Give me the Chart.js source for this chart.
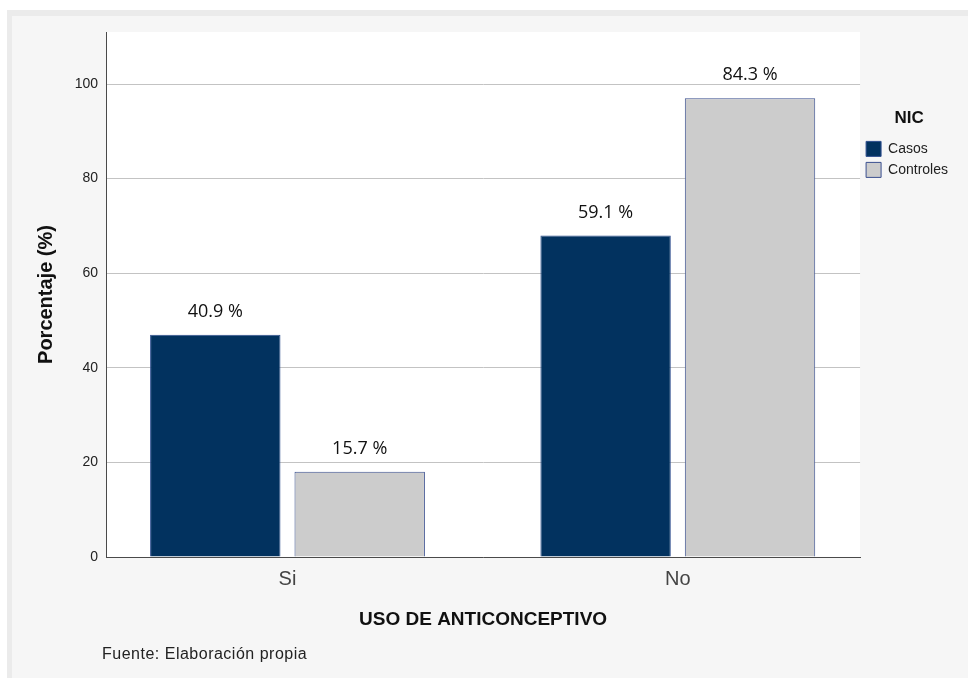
<!DOCTYPE html>
<html>
<head>
<meta charset="utf-8">
<script src="https://cdn.jsdelivr.net/npm/chart.js@4"></script>
<style>
  body { margin: 0; background: #fff; }
  #wrap { width: 968px; height: 678px; }
</style>
</head>
<body>
<div id="wrap"><canvas id="nicChart" width="968" height="678"></canvas></div>
<script>
// categories and values
const categories = ['Si', 'No'];
const casos = [47, 68];        // bar heights on the axis
const controles = [18, 97];
const casosLabels = ['40.9 %', '59.1 %'];
const controlesLabels = ['15.7 %', '84.3 %'];
const yTicks = [0, 20, 40, 60, 80, 100];

const toPoints = arr => arr.map((v, i) => ({ x: i, y: v }));

// grey frame + white plot area
const frame = {
  id: 'frame',
  beforeDraw(chart) {
    const { ctx, width, height, chartArea: a } = chart;
    ctx.save();
    ctx.fillStyle = '#ffffff';
    ctx.fillRect(0, 0, width, height);
    ctx.fillStyle = '#ebebeb';
    ctx.fillRect(7, 10, width - 7, height - 10);
    ctx.fillStyle = '#f6f6f6';
    ctx.fillRect(12, 16, width - 12, height - 16);
    ctx.fillStyle = '#ffffff';
    ctx.fillRect(a.left, a.top, a.right - a.left, a.bottom - a.top);
    ctx.restore();
  }
};

// percentage text above each bar + footnote
const valueText = {
  id: 'valueText',
  afterDatasetsDraw(chart) {
    const { ctx } = chart;
    const texts = [casosLabels, controlesLabels];
    ctx.save();
    ctx.font = '18px "Open Sans"';
    ctx.fillStyle = '#111';
    ctx.textAlign = 'center';
    ctx.textBaseline = 'middle';
    chart.data.datasets.forEach((ds, di) => {
      chart.getDatasetMeta(di).data.forEach((bar, i) => {
        ctx.fillText(texts[di][i], bar.x, bar.y - 23);
      });
    });
    ctx.restore();
  },
  afterDraw(chart) {
    const { ctx } = chart;
    ctx.save();
    ctx.font = '16px "Liberation Sans"';
    ctx.letterSpacing = '0.5px';
    ctx.fillStyle = '#222';
    ctx.textAlign = 'left';
    ctx.textBaseline = 'middle';
    ctx.fillText('Fuente: Elaboración propia', 102, 655);
    ctx.restore();
  }
};

new Chart(document.getElementById('nicChart'), {
  type: 'bar',
  data: {
    datasets: [
      {
        label: 'Casos',
        data: toPoints(casos),
        backgroundColor: '#02325f',
        borderColor: '#2f4f8f',
        borderWidth: 1
      },
      {
        label: 'Controles',
        data: toPoints(controles),
        backgroundColor: '#cccccc',
        borderColor: '#3a4f8f',
        borderWidth: 1
      }
    ]
  },
  options: {
    responsive: false,
    animation: false,
    devicePixelRatio: 1,
    categoryPercentage: 0.74,
    barPercentage: 0.903,
    layout: { padding: { top: 32, right: 10, bottom: 0, left: 0 } },
    plugins: {
      tooltip: { enabled: false },
      legend: {
        position: 'right',
        align: 'start',
        title: {
          display: true,
          text: 'NIC',
          color: '#111',
          font: { family: 'Liberation Sans', size: 17, weight: 'bold' },
          padding: { top: 78, bottom: 5 }
        },
        labels: {
          boxWidth: 15,
          boxHeight: 15,
          padding: 6,
          color: '#222',
          font: { family: 'Liberation Sans', size: 14 }
        }
      }
    },
    scales: {
      x: {
        type: 'linear',
        offset: false,
        min: -0.465,
        max: 1.467,
        afterBuildTicks: s => { s.ticks = s.ticks.filter(t => Number.isInteger(t.value) && t.value >= 0 && t.value < categories.length); },
        afterFit: s => { s.height = 121; },
        grid: { display: false, drawTicks: false, offset: false },
        border: { display: true, color: '#4a4a4a', width: 1 },
        ticks: {
          stepSize: 1,
          autoSkip: false,
          padding: 10,
          color: '#444',
          font: { family: 'Liberation Sans', size: 20 },
          callback: v => categories[v] ?? ''
        },
        title: {
          display: true,
          text: 'USO DE ANTICONCEPTIVO',
          color: '#111',
          font: { family: 'Liberation Sans', size: 19, weight: 'bold' },
          padding: { top: 0, bottom: 47 }
        }
      },
      y: {
        min: 0,
        max: 111,
        afterBuildTicks: s => { s.ticks = s.ticks.filter(t => yTicks.includes(t.value)); },
        afterFit: s => { s.width = 106; },
        grid: { color: '#c3c3c3', lineWidth: 1, drawTicks: false },
        border: { display: true, color: '#4a4a4a', width: 1 },
        ticks: {
          padding: 8,
          color: '#222',
          font: { family: 'Liberation Sans', size: 14 }
        },
        title: {
          display: true,
          text: 'Porcentaje (%)',
          color: '#111',
          font: { family: 'Liberation Sans', size: 20, weight: 'bold' },
          padding: { top: 34, bottom: 0 }
        }
      }
    }
  },
  plugins: [frame, valueText]
});
</script>
</body>
</html>
